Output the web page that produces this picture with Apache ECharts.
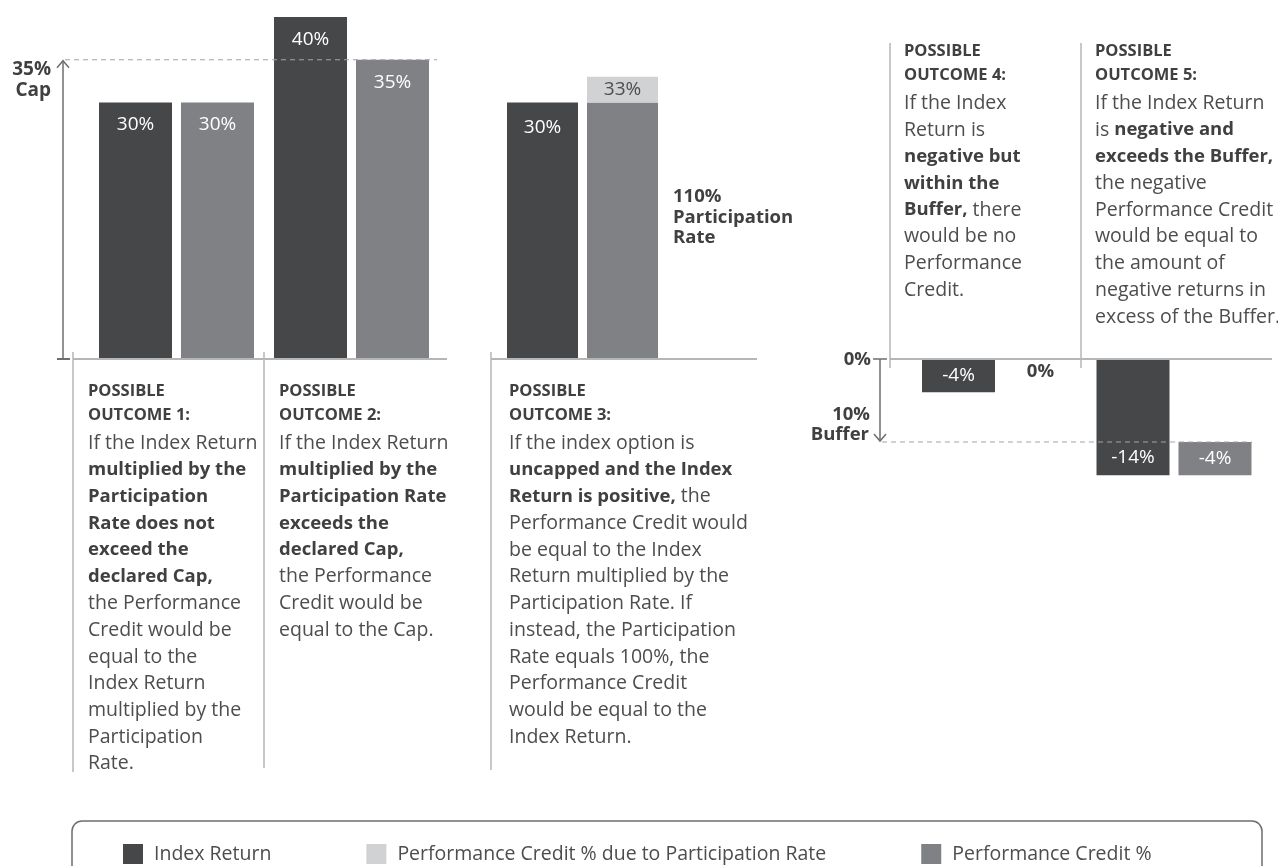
<!DOCTYPE html>
<html><head><meta charset="utf-8">
<script src="https://cdn.jsdelivr.net/npm/echarts@6/dist/echarts.min.js"></script>
<style>html,body{margin:0;padding:0;background:#fff;}#main{width:1278px;height:866px;}</style>
</head><body><div id="main"></div>
<script>
// ---------- data ----------
const outcomes12 = ['Possible Outcome 1', 'Possible Outcome 2'];
const indexReturn12 = [30, 40];
const perfCredit12 = [30, 35];

const outcomes3 = ['Possible Outcome 3'];
const indexReturn3 = [30];
const perfCredit3 = [30];
const participationExtra3 = [3];

const outcomes45 = ['Possible Outcome 4', 'Possible Outcome 5'];
const indexReturn45 = [-4, -14];
const perfCredit45 = [0, -4];

const CAP = 35;
const BUFFER = -10;
const PARTICIPATION = 110;

const legendNames = ['Index Return', 'Performance Credit % due to Participation Rate', 'Performance Credit %'];

// ---------- styles ----------
const C_DARK = '#464749', C_MID = '#808184', C_LIGHT = '#d1d2d4';
const C_TEXT = '#4d4d4f', C_BOLD = '#404042', C_LINE = '#b5b6b8', C_ARROW = '#6d6e71', C_DASH = '#a3a4a7';
const REG = 'Open Sans';
const pct = p => p.value + '%';
const whiteLabel = (pos, dist) => ({show: true, position: pos, distance: dist, color: '#fff', fontFamily: REG, fontSize: 19, formatter: pct});

const bufferOffset45 = perfCredit45.map(v => (v < 0 ? BUFFER : 0));

const chart = echarts.init(document.getElementById('main'), null, {renderer: 'canvas', width: 1278, height: 866});

const hiddenX = (i, data) => ({type: 'category', gridIndex: i, data: data, show: false});
const hiddenY = (i, min, max) => ({type: 'value', gridIndex: i, min: min, max: max, show: false, splitLine: {show: false}});

const option = {
  animation: false,
  backgroundColor: '#ffffff',
  grid: [
    {left: 89, width: 350, top: 17, height: 342},
    {left: 482.5, width: 200, top: 17, height: 342},
    {left: 912.25, width: 349, top: 359, height: 116.2}
  ],
  xAxis: [hiddenX(0, outcomes12), hiddenX(1, outcomes3), hiddenX(2, outcomes45)],
  yAxis: [hiddenY(0, 0, 40), hiddenY(1, 0, 40), hiddenY(2, -14, 0)],
  legend: {
    left: 118, top: 839, itemWidth: 20, itemHeight: 20, itemGap: 95, icon: 'rect',
    selectedMode: false, data: legendNames,
    textStyle: {fontFamily: REG, fontSize: 19.5, color: C_TEXT, padding: [0, 0, 0, 6]}
  },
  series: [
    {name: 'Index Return', type: 'bar', xAxisIndex: 0, yAxisIndex: 0, data: indexReturn12,
     barWidth: 73, barGap: '12.3%', itemStyle: {color: C_DARK}, label: whiteLabel('insideTop', 13)},
    {name: 'Performance Credit %', type: 'bar', xAxisIndex: 0, yAxisIndex: 0, data: perfCredit12,
     barWidth: 73, barGap: '12.3%', itemStyle: {color: C_MID}, label: whiteLabel('insideTop', 13)},

    {name: 'Index Return', type: 'bar', xAxisIndex: 1, yAxisIndex: 1, data: indexReturn3,
     barWidth: 71, barGap: '12.7%', itemStyle: {color: C_DARK}, label: whiteLabel('insideTop', 16)},
    {name: 'Performance Credit %', type: 'bar', xAxisIndex: 1, yAxisIndex: 1, stack: 'o3', data: perfCredit3,
     barWidth: 71, barGap: '12.7%', itemStyle: {color: C_MID}, label: {show: false}},
    {name: 'Performance Credit % due to Participation Rate', type: 'bar', xAxisIndex: 1, yAxisIndex: 1, stack: 'o3',
     data: participationExtra3, barWidth: 71, barGap: '12.7%', itemStyle: {color: C_LIGHT},
     label: {show: true, position: 'inside', color: '#4d4d4f', fontFamily: REG, fontSize: 19,
             formatter: p => (perfCredit3[p.dataIndex] + p.value) + '%'}},

    {name: 'Index Return', type: 'bar', xAxisIndex: 2, yAxisIndex: 2,
     data: indexReturn45.map(v => ({value: v, label: {position: v <= BUFFER ? 'insideBottom' : 'inside'}})),
     barWidth: 73, barGap: '12.3%', itemStyle: {color: C_DARK}, label: whiteLabel('inside', 8)},
    {name: '_buffer', type: 'bar', xAxisIndex: 2, yAxisIndex: 2, stack: 'o45', data: bufferOffset45,
     barWidth: 73, barGap: '12.3%', silent: true, itemStyle: {color: 'rgba(0,0,0,0)'}, label: {show: false}},
    {name: 'Performance Credit %', type: 'bar', xAxisIndex: 2, yAxisIndex: 2, stack: 'o45',
     data: perfCredit45.map(v => v === 0
       ? {value: v, label: {position: 'bottom', distance: 3, color: C_BOLD, fontWeight: 'bold', fontSize: 18.5}}
       : {value: v, label: {position: 'inside'}}),
     barWidth: 73, barGap: '12.3%', itemStyle: {color: C_MID}, label: whiteLabel('inside', 5)}
  ]
};
chart.setOption(option);

// ---------- annotations positioned through the chart's own scales ----------
const y0A = chart.convertToPixel({gridIndex: 0}, [0, 0])[1];
const yCap = chart.convertToPixel({gridIndex: 0}, [0, CAP])[1];
const y0C = chart.convertToPixel({gridIndex: 2}, [0, 0])[1];
const yBuf = chart.convertToPixel({gridIndex: 2}, [0, BUFFER])[1];

const line = (x1, y1, x2, y2, stroke, lw, dash) => ({type: 'line', silent: true, z: 10,
  shape: {x1, y1, x2, y2}, style: {stroke, lineWidth: lw, lineDash: dash || null}});
const poly = (pts, stroke, lw) => ({type: 'polyline', silent: true, z: 10, shape: {points: pts}, style: {stroke, lineWidth: lw, fill: null}});
const txt = (x, y, text, align, font, fill, extra) => ({type: 'text', silent: true, z: 10, x, y,
  style: Object.assign({text, font, fill, textAlign: align, textVerticalAlign: 'middle'}, extra || {})});

const BOLD_FONT = 'bold 18.5px "Open Sans"';
const LH = 26.7;
const richStyle = {b: {fontFamily: 'Open Sans', fontWeight: 'bold', fontSize: 18.5, fill: C_BOLD, lineHeight: LH}};
const block = (x, yHead, num, lines) => [
  {type: 'text', silent: true, z: 10, x, y: yHead,
   style: {text: 'POSSIBLE\nOUTCOME ' + num + ':', font: 'bold 16.5px "Open Sans"', fill: C_BOLD, lineHeight: 24, textVerticalAlign: 'top'}},
  {type: 'text', silent: true, z: 10, x, y: yHead + 51,
   style: {text: lines.join('\n'), font: '19.5px "Open Sans"', fill: C_TEXT, lineHeight: LH, textVerticalAlign: 'top', rich: richStyle}}
];

const graphics = [
  // baselines
  line(73, y0A, 447, y0A, C_LINE, 2),
  line(491, y0A, 757, y0A, C_LINE, 2),
  line(890, y0C, 1272, y0C, C_LINE, 2),
  // dividers
  line(73, y0A - 7, 73, 772, C_LINE, 1.5),
  line(264, y0A - 7, 264, 768, C_LINE, 1.5),
  line(491, y0A - 7, 491, 770, C_LINE, 1.5),
  line(890, 43, 890, y0C + 9, C_LINE, 1.5),
  line(1081, 43, 1081, y0C + 9, C_LINE, 1.5),
  // cap
  line(65, yCap, 437, yCap, C_DASH, 1.2, [5, 4]),
  line(63, y0A, 63, yCap + 1, C_ARROW, 1.5),
  poly([[57, yCap + 8], [63, yCap + 1], [69, yCap + 8]], C_ARROW, 1.5),
  line(57, y0A, 70, y0A, C_ARROW, 2),
  txt(51, yCap + 10, CAP + '%', 'right', 'bold 19px "Open Sans"', C_BOLD),
  txt(51, yCap + 31, 'Cap', 'right', 'bold 19px "Open Sans"', C_BOLD),
  // participation rate
  txt(673, 197, PARTICIPATION + '%', 'left', BOLD_FONT, C_BOLD),
  txt(673, 218, 'Participation', 'left', BOLD_FONT, C_BOLD),
  txt(673, 238, 'Rate', 'left', BOLD_FONT, C_BOLD),
  // buffer
  line(882, yBuf, 1252, yBuf, C_DASH, 1.2, [5, 4]),
  line(880, y0C, 880, yBuf - 1, C_ARROW, 1.5),
  poly([[874, yBuf - 8], [880, yBuf - 1], [886, yBuf - 8]], C_ARROW, 1.5),
  line(873, y0C, 887, y0C, C_ARROW, 1.5),
  txt(871, y0C + 1, '0%', 'right', BOLD_FONT, C_BOLD),
  txt(870, yBuf - 27, Math.abs(BUFFER) + '%', 'right', BOLD_FONT, C_BOLD),
  txt(869, yBuf - 7, 'Buffer', 'right', BOLD_FONT, C_BOLD),
  // legend frame
  {type: 'rect', silent: true, z: 1, shape: {x: 72, y: 821, width: 1190, height: 90, r: 10},
   style: {fill: null, stroke: '#6d6e71', lineWidth: 1.5}}
];

graphics.push(...block(88, 379, 1, [
  'If the Index Return', '{b|multiplied by the}', '{b|Participation}', '{b|Rate does not}', '{b|exceed the}',
  '{b|declared Cap,}', 'the Performance', 'Credit would be', 'equal to the', 'Index Return',
  'multiplied by the', 'Participation', 'Rate.']));
graphics.push(...block(279, 379, 2, [
  'If the Index Return', '{b|multiplied by the}', '{b|Participation Rate}', '{b|exceeds the}',
  '{b|declared Cap,}', 'the Performance', 'Credit would be', 'equal to the Cap.']));
graphics.push(...block(509, 379, 3, [
  'If the index option is', '{b|uncapped and the Index}', '{b|Return is positive,} the',
  'Performance Credit would', 'be equal to the Index', 'Return multiplied by the',
  'Participation Rate. If', 'instead, the Participation', 'Rate equals 100%, the',
  'Performance Credit', 'would be equal to the', 'Index Return.']));
graphics.push(...block(904, 39, 4, [
  'If the Index', 'Return is', '{b|negative but}', '{b|within the}', '{b|Buffer,} there',
  'would be no', 'Performance', 'Credit.']));
graphics.push(...block(1095, 39, 5, [
  'If the Index Return', 'is {b|negative and}', '{b|exceeds the Buffer,}', 'the negative',
  'Performance Credit', 'would be equal to', 'the amount of', 'negative returns in',
  'excess of the Buffer.']));

chart.setOption({graphic: graphics});
</script></body></html>
